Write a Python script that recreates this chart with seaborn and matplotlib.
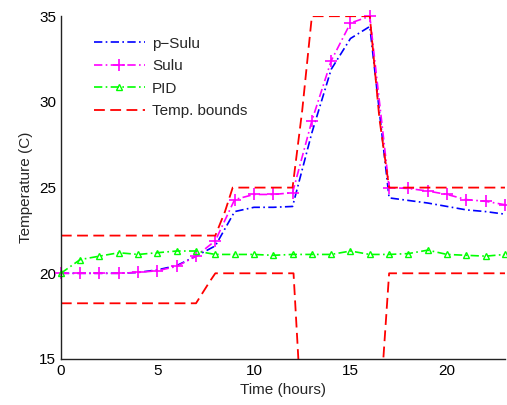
import numpy as np
import pandas as pd
import seaborn as sns
import matplotlib
matplotlib.use("Agg")
import matplotlib.pyplot as plt

# Stundenwerte 0..23
hours = list(range(24))

p_sulu = [20.0, 20.0, 20.0, 20.0, 20.05, 20.2, 20.45, 21.0, 21.6, 23.6, 23.85, 23.85,
          23.9, 28.2, 31.9, 33.7, 34.4, 24.4, 24.25, 24.1, 23.9, 23.7, 23.6, 23.45]
sulu = [20.0, 20.0, 20.0, 20.0, 20.05, 20.15, 20.4, 21.0, 21.9, 24.3, 24.6, 24.6,
        24.7, 28.9, 32.4, 34.6, 35.0, 25.0, 24.95, 24.8, 24.6, 24.3, 24.2, 24.0]
pid = [20.0, 20.8, 21.0, 21.2, 21.1, 21.2, 21.3, 21.3, 21.1, 21.1, 21.1, 21.05,
       21.1, 21.1, 21.1, 21.3, 21.1, 21.1, 21.15, 21.35, 21.1, 21.05, 21.0, 21.1]

# Temperaturgrenzen (untere Grenze faellt zwischendurch unter den sichtbaren Bereich)
upper_t = [0, 8.0, 8.5, 8.9, 12.0, 12.5, 13.0, 16.0, 16.5, 17.0, 23]
upper_v = [22.2, 22.2, 23.6, 25.0, 25.0, 29.5, 35.0, 35.0, 29.0, 25.0, 25.0]
lower_t = [0, 7.0, 7.7, 8.0, 12.05, 12.55, 16.4, 17.0, 23]
lower_v = [18.25, 18.25, 19.5, 20.0, 20.0, 10.0, 10.0, 20.0, 20.0]

sns.set_style("white")
plt.rcParams['font.family'] = ['Liberation Sans', 'DejaVu Sans']
plt.rcParams['font.size'] = 11

fig = plt.figure(figsize=(5.07, 4.05), dpi=100)
ax = fig.add_axes([0.120, 0.1136, 0.876, 0.8464])

sns.lineplot(x=hours, y=p_sulu, ax=ax, color="#0000ff", lw=1.2,
             dashes=(5, 2, 1, 2), label="p\u2212Sulu")
sns.lineplot(x=hours, y=sulu, ax=ax, color="#ff00ff", lw=1.2,
             dashes=(5, 2, 1, 2), marker="+", markersize=8, mew=1.2,
             markeredgecolor="#ff00ff", clip_on=False, label="Sulu")
sns.lineplot(x=hours, y=pid, ax=ax, color="#00ff00", lw=1.2,
             dashes=(5, 2, 1, 2), marker="^", markersize=5, mew=1.0,
             markerfacecolor="none", markeredgecolor="#00ff00",
             clip_on=False, label="PID")
sns.lineplot(x=upper_t, y=upper_v, ax=ax, color="#ff0000", lw=1.3,
             dashes=(6, 3), sort=False, label="Temp. bounds")
sns.lineplot(x=lower_t, y=lower_v, ax=ax, color="#ff0000", lw=1.3,
             dashes=(6, 3), sort=False)

ax.set_xlim(0, 23)
ax.set_ylim(15, 35)
ax.set_xticks([0, 5, 10, 15, 20])
ax.set_yticks([15, 20, 25, 30, 35])
ax.set_xlabel("Time (hours)", fontsize=11)
ax.set_ylabel("Temperature (C)", fontsize=11)
ax.tick_params(direction="in", length=4, width=1, colors="black", labelsize=11)
sns.despine(ax=ax)
for s in ["left", "bottom"]:
    ax.spines[s].set_color("#222222")
    ax.spines[s].set_linewidth(1.0)

ax.legend(loc="upper left", bbox_to_anchor=(0.075, 0.94), frameon=False,
          borderpad=0, borderaxespad=0, handlelength=3.3, handletextpad=0.5,
          labelspacing=0.55, fontsize=11, numpoints=1)

fig.savefig("out.png", dpi=100)
